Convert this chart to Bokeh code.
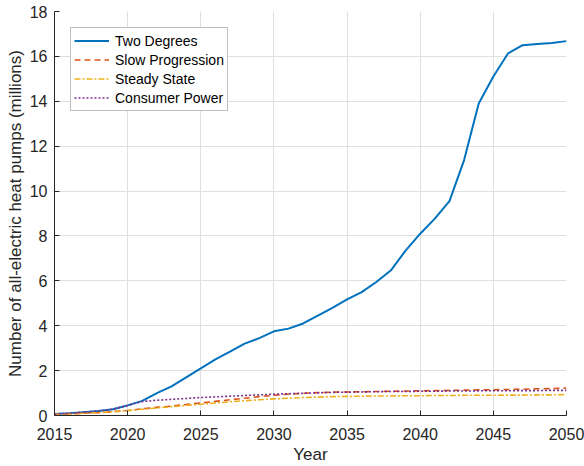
from bokeh.plotting import figure
from bokeh.models import Range1d, FixedTicker, Legend, LegendItem
from bokeh.embed import file_html
from bokeh.resources import INLINE

years = list(range(2015, 2051))

two_degrees = [0.07, 0.10, 0.15, 0.20, 0.28, 0.45, 0.65, 1.00, 1.30, 1.70,
               2.10, 2.50, 2.85, 3.20, 3.45, 3.75, 3.87, 4.10, 4.45, 4.80,
               5.17, 5.50, 5.95, 6.47, 7.35, 8.10, 8.77, 9.55, 11.38, 13.90,
               15.10, 16.13, 16.50, 16.55, 16.60, 16.68]

slow_progression = [0.05, 0.07, 0.10, 0.13, 0.17, 0.22, 0.30, 0.36, 0.42, 0.49,
                    0.56, 0.63, 0.70, 0.77, 0.84, 0.90, 0.95, 0.99, 1.02, 1.04,
                    1.05, 1.06, 1.07, 1.08, 1.09, 1.10, 1.11, 1.12, 1.13, 1.14,
                    1.15, 1.16, 1.17, 1.19, 1.20, 1.22]

steady_state = [0.05, 0.07, 0.10, 0.13, 0.17, 0.22, 0.28, 0.34, 0.39, 0.45,
                0.50, 0.56, 0.61, 0.66, 0.70, 0.74, 0.77, 0.80, 0.82, 0.84,
                0.85, 0.86, 0.87, 0.87, 0.88, 0.88, 0.89, 0.89, 0.90, 0.90,
                0.90, 0.91, 0.91, 0.92, 0.92, 0.93]

consumer_power = [0.07, 0.10, 0.15, 0.20, 0.28, 0.45, 0.62, 0.68, 0.72, 0.76,
                  0.80, 0.83, 0.86, 0.89, 0.92, 0.95, 0.97, 0.99, 1.01, 1.03,
                  1.04, 1.05, 1.06, 1.07, 1.07, 1.08, 1.08, 1.09, 1.09, 1.10,
                  1.10, 1.10, 1.11, 1.11, 1.12, 1.12]

x_ticks = [2015, 2020, 2025, 2030, 2035, 2040, 2045, 2050]
y_ticks = [0, 2, 4, 6, 8, 10, 12, 14, 16, 18]
x_title = "Year"
y_title = "Number of all-electric heat pumps (millions)"

FONT = "Liberation Sans"
DARK = "#262626"

p = figure(width=584, height=466, output_backend="svg", toolbar_location=None,
           x_range=Range1d(2015, 2050), y_range=Range1d(0, 18),
           min_border_left=54, min_border_right=18, min_border_top=11, min_border_bottom=50)
p.outline_line_color = None
p.background_fill_color = "white"

r1 = p.line(years, two_degrees, line_color="#0072BD", line_width=2)
r2 = p.line(years, slow_progression, line_color="#D95319", line_width=1.6, line_dash="6 4")
r3 = p.line(years, steady_state, line_color="#EDB120", line_width=1.6, line_dash="6 2 2 2")
r4 = p.line(years, consumer_power, line_color="#7E2F8E", line_width=1.6, line_dash="2 2")

for ax in (p.xaxis[0], p.yaxis[0]):
    ax.axis_line_color = DARK
    ax.major_tick_line_color = DARK
    ax.major_tick_in = 5
    ax.major_tick_out = 0
    ax.minor_tick_line_color = None
    ax.major_label_text_font = FONT
    ax.major_label_text_font_size = "16px"
    ax.major_label_text_color = DARK
    ax.axis_label_text_font = FONT
    ax.axis_label_text_font_size = "17px"
    ax.axis_label_text_font_style = "normal"
    ax.axis_label_text_color = DARK

p.xaxis.ticker = FixedTicker(ticks=x_ticks)
p.yaxis.ticker = FixedTicker(ticks=y_ticks)
p.xaxis.major_label_standoff = 12
p.yaxis.major_label_standoff = 7
p.xaxis.axis_label = x_title
p.yaxis.axis_label = y_title
p.xaxis.axis_label_standoff = 2
p.yaxis.axis_label_standoff = 2

p.xgrid.ticker = FixedTicker(ticks=x_ticks)
p.ygrid.ticker = FixedTicker(ticks=y_ticks)
p.grid.grid_line_color = "#dfdfdf"
p.grid.grid_line_width = 1

legend = Legend(items=[
    LegendItem(label="Two Degrees", renderers=[r1]),
    LegendItem(label="Slow Progression", renderers=[r2]),
    LegendItem(label="Steady State", renderers=[r3]),
    LegendItem(label="Consumer Power", renderers=[r4]),
], location="top_left")
legend.margin = 16
legend.padding = 3
legend.spacing = 0
legend.glyph_width = 35
legend.glyph_height = 19
legend.label_height = 19
legend.label_standoff = 6
legend.label_text_font = FONT
legend.label_text_font_size = "14px"
legend.label_text_color = "#000000"
legend.border_line_color = "#808080"
legend.border_line_width = 1
legend.background_fill_color = "white"
legend.background_fill_alpha = 1
p.add_layout(legend)

open("out.html", "w").write(file_html(p, INLINE))
